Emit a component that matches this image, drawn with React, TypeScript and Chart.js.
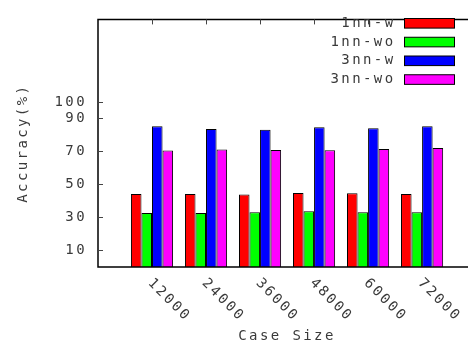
import React, { useEffect, useRef } from "react";
import { Chart, registerables } from "chart.js";

Chart.register(...registerables);

const categories = ["12000", "24000", "36000", "48000", "60000", "72000"];
const seriesNames = ["1nn-w", "1nn-wo", "3nn-w", "3nn-wo"];
const nn1With = [44.3, 44.3, 43.9, 44.9, 44.7, 44.3];
const nn1Without = [32.7, 32.7, 33.2, 33.7, 33.2, 33.2];
const nn3With = [85.2, 83.6, 83.2, 84.6, 84.0, 85.2];
const nn3Without = [70.6, 71.2, 70.9, 70.8, 71.5, 72.1];
const yTickValues = [10, 30, 50, 70, 90, 100];
const colors = ["#ff0000", "#00ff00", "#0000ff", "#ff00ff"];

const FONT = "'DejaVu Sans Mono', monospace";
const SPACING = "2.4px";
const TEXT = "#3a3a3a";

const gnuplotPlugin = {
  id: "gnuplotDecor",
  beforeUpdate(chart: any) {
    chart.ctx.letterSpacing = SPACING;
  },
  beforeDraw(chart: any) {
    chart.ctx.letterSpacing = SPACING;
  },
  afterDraw(chart: any) {
    const ctx = chart.ctx;
    const area = chart.chartArea;
    const xs = chart.scales.x;
    const ys = chart.scales.y;
    ctx.save();
    ctx.letterSpacing = SPACING;
    // border
    ctx.strokeStyle = "#000";
    ctx.lineWidth = 1.5;
    ctx.beginPath();
    ctx.moveTo(area.right + 2, area.top);
    ctx.lineTo(area.left, area.top);
    ctx.lineTo(area.left, area.bottom);
    ctx.lineTo(area.right + 2, area.bottom);
    ctx.stroke();
    // ticks
    ctx.lineWidth = 1;
    ctx.strokeStyle = "#444";
    ctx.beginPath();
    categories.forEach((_, i) => {
      const px = Math.round(xs.getPixelForValue(i)) + 0.5;
      ctx.moveTo(px, area.top);
      ctx.lineTo(px, area.top + 5);
    });
    yTickValues.forEach((v) => {
      const py = Math.round(ys.getPixelForValue(v)) + 0.5;
      ctx.moveTo(area.left, py);
      ctx.lineTo(area.left + 5, py);
    });
    ctx.stroke();
    // x tick labels (rotated +45deg)
    ctx.fillStyle = TEXT;
    ctx.font = `14px ${FONT}`;
    ctx.textAlign = "left";
    ctx.textBaseline = "middle";
    categories.forEach((c, i) => {
      const px = xs.getPixelForValue(i);
      ctx.save();
      ctx.translate(px - 2, area.bottom + 14);
      ctx.rotate(Math.PI / 4);
      ctx.fillText(c, 0, 0);
      ctx.restore();
    });
    // x title
    ctx.textAlign = "center";
    ctx.fillText("Case Size", (area.left + area.right) / 2 + 4, 336);
    // legend
    ctx.textAlign = "right";
    chart.data.datasets.forEach((ds: any, i: number) => {
      const cy = 23.3 + i * 18.75;
      ctx.fillStyle = TEXT;
      ctx.fillText(ds.label, 395.5, cy);
      ctx.fillStyle = ds.backgroundColor;
      ctx.fillRect(404.5, cy - 4.8, 50, 9.6);
      ctx.strokeStyle = "#000";
      ctx.lineWidth = 1;
      ctx.strokeRect(404.5, cy - 4.8, 50, 9.6);
    });
    ctx.restore();
  },
};

export default function App() {
  const canvasRef = useRef<HTMLCanvasElement>(null);
  useEffect(() => {
    if (!canvasRef.current) return;
    const series = [nn1With, nn1Without, nn3With, nn3Without];
    const chart = new Chart(canvasRef.current, {
      type: "bar",
      data: {
        datasets: series.map((vals, si) => ({
          label: seriesNames[si],
          data: vals.map((v, i) => ({ x: i, y: v })),
          backgroundColor: colors[si],
          borderColor: "#000",
          borderWidth: 1,
          categoryPercentage: 0.78,
          barPercentage: 1,
        })),
      },
      options: {
        responsive: false,
        animation: false,
        events: [],
        layout: { padding: { top: 9, right: 0, left: 0, bottom: 0 } },
        plugins: { legend: { display: false }, tooltip: { enabled: false } },
        scales: {
          x: {
            type: "linear",
            offset: false,
            min: -1,
            max: 5.85,
            grid: { display: false, drawTicks: false, offset: false },
            border: { display: false },
            ticks: { display: false },
            afterBuildTicks: (scale: any) => {
              scale.ticks = categories.map((_, i) => ({ value: i }));
            },
            title: { display: false },
            afterFit: (scale: any) => {
              scale.height = 78;
            },
          },
          y: {
            type: "linear",
            min: 0,
            max: 150,
            grid: { display: false, drawTicks: false, tickLength: 0 },
            border: { display: false },
            afterBuildTicks: (scale: any) => {
              scale.ticks = yTickValues.map((v) => ({ value: v }));
            },
            ticks: {
              color: TEXT,
              padding: 11,
              font: { family: FONT, size: 14 },
              autoSkip: false,
            },
            title: {
              display: true,
              text: "Accuracy(%)",
              color: TEXT,
              font: { family: FONT, size: 14, lineHeight: 1.2 },
              padding: { top: 15, bottom: 0 },
            },
            afterFit: (scale: any) => {
              scale.width = 98;
            },
          },
        },
      },
      plugins: [gnuplotPlugin],
    } as any);
    return () => chart.destroy();
  }, []);
  return (
    <div style={{ position: "fixed", left: 0, top: 0, width: 468, height: 345, background: "#fff" }}>
      <canvas ref={canvasRef} width={468} height={345} style={{ display: "block" }} />
    </div>
  );
}
